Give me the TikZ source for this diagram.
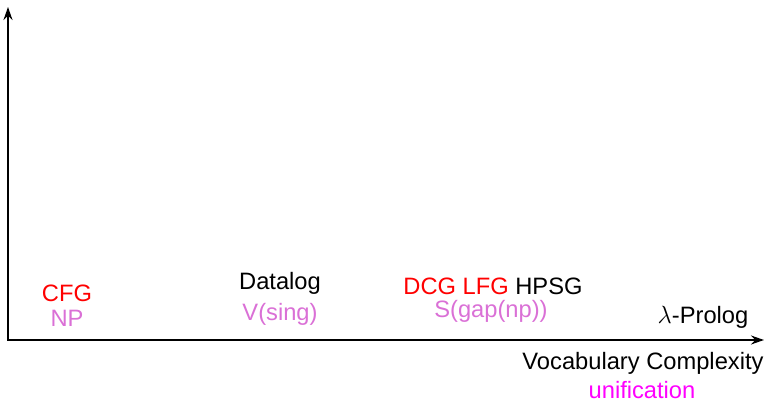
\documentclass[tikz,border=0pt]{standalone}
\usepackage{fontspec}
\setmainfont{Liberation Sans}
\usetikzlibrary{arrows.meta}
\definecolor{termred}{RGB}{255,0,0}
\definecolor{featorchid}{RGB}{218,112,214}
\definecolor{unifmag}{RGB}{255,0,255}
\begin{document}
\begin{tikzpicture}[x=1pt,y=-1pt,
  lbl/.style={font=\fontsize{23.7}{28}\selectfont, inner sep=0pt, anchor=base},
  axis/.style={line width=2pt, line join=miter, {Stealth[length=13pt,width=9pt]}-{Stealth[length=13pt,width=9pt]}}]
\useasboundingbox (0,0) rectangle (766,403);
% axes
\coordinate (ytip) at (8,7);
\coordinate (orig) at (8,340);
\coordinate (xtip) at (764,340);
\draw[axis] (ytip) -- (orig) -- (xtip);
% grammar formalisms along the axis
\node[lbl, text=termred] (cfg) at (67,302) {CFG};
\node[lbl, text=featorchid] (np) at (67,327) {NP};
\node[lbl] (datalog) at (280,290) {Datalog};
\node[lbl, text=featorchid] (vsing) at (280,321) {V(sing)};
\node[lbl] (dcg) at (493,295) {\textcolor{termred}{DCG LFG} HPSG};
\node[lbl, text=featorchid] (sgap) at (491,318) {S(gap(np))};
\node[lbl] (lprolog) at (703,324) {$\lambda$-Prolog};
% axis labels
\node[lbl] (xlabel) at (643,370) {Vocabulary Complexity};
\node[lbl, text=unifmag] (unif) at (642,398.5) {unification};
\end{tikzpicture}
\end{document}
